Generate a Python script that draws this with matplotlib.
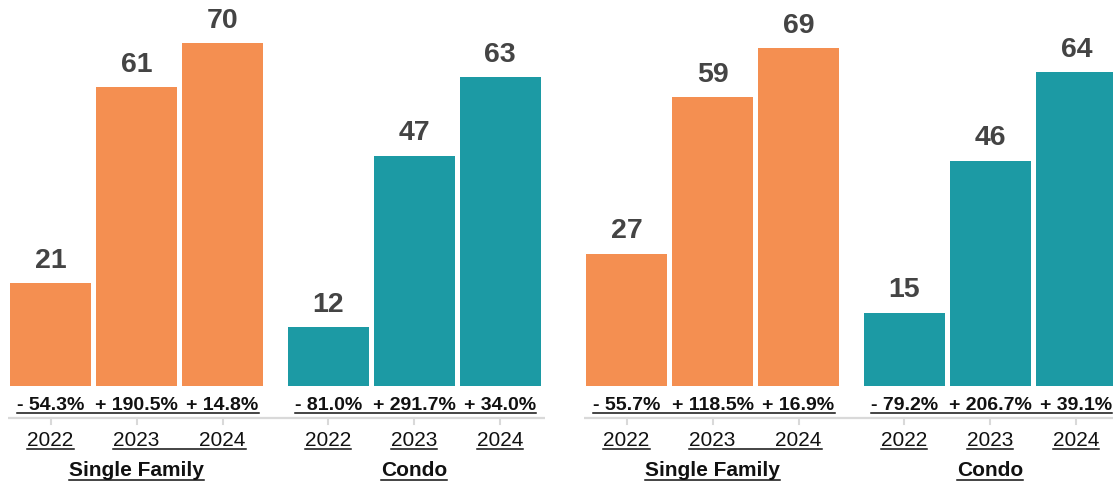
import matplotlib
matplotlib.use("Agg")
import matplotlib.pyplot as plt
import matplotlib.transforms as mtransforms
from matplotlib.lines import Line2D

plt.rcParams['font.family'] = ['Liberation Sans', 'DejaVu Sans']

years = ["2022", "2023", "2024"]
groups = ["Single Family", "Condo"]

# panel 1
left_sf = [21, 61, 70]
left_condo = [12, 47, 63]
left_sf_chg = [-54.3, 190.5, 14.8]
left_condo_chg = [-81.0, 291.7, 34.0]

# panel 2
right_sf = [27, 59, 69]
right_condo = [15, 46, 64]
right_sf_chg = [-55.7, 118.5, 16.9]
right_condo_chg = [-79.2, 206.7, 39.1]

ORANGE = "#F48F51"
TEAL = "#1C9AA4"
GRID = "#d9d9d9"
W, H, DPI = 1113, 484, 100

fig = plt.figure(figsize=(W / DPI, H / DPI), dpi=DPI)


def fy(px):
    # pixel row from the top -> inches from the bottom
    return (H - px) / DPI


def fmt_pct(v):
    sign = "+" if v >= 0 else "-"
    return f"{sign} {abs(v):.1f}%"


def draw_panel(left_px, sf, condo, sf_chg, condo_chg):
    base = 386
    ax = fig.add_axes([left_px / W, (H - base) / H, 560 / W, base / H])
    ax.set_xlim(-50.5 / 86, (560 - 50.5) / 86)
    ax.set_ylim(0, base / 4.9)
    ax.axis("off")

    trans = mtransforms.blended_transform_factory(ax.transData, fig.dpi_scale_trans)
    texts = []
    for g, (vals, chg, color) in enumerate([(sf, sf_chg, ORANGE), (condo, condo_chg, TEAL)]):
        xs = [i + g * 3.23 for i in range(3)]
        ax.bar(xs, vals, width=0.942, color=color, linewidth=0)
        for x, v in zip(xs, vals):
            ax.annotate(str(v), (x, v), xytext=(0, 11), textcoords="offset points",
                        ha="center", va="baseline", fontsize=20.5, fontweight="bold",
                        color="#444444")
        pct = [ax.text(x, fy(410), fmt_pct(c), transform=trans, ha="center",
                       va="baseline", fontsize=14, fontweight="bold", color="#111111")
               for x, c in zip(xs, chg)]
        yrs = [ax.text(x, fy(445.5), y, transform=trans, ha="center",
                       va="baseline", fontsize=15, color="#111111")
               for x, y in zip(xs, years)]
        name = ax.text(sum(xs) / 3, fy(476), groups[g], transform=trans, ha="center",
                       va="baseline", fontsize=15, fontweight="bold", color="#111111")
        for x in xs:
            ax.plot([x, x], [fy(418), fy(424)], transform=trans, color=GRID,
                    lw=1.5, clip_on=False)
        texts.append((pct, yrs, name, g))
    ax.plot([-0.49, 5.75], [fy(418), fy(418)], transform=trans, color=GRID,
            lw=1.6, clip_on=False, solid_capstyle="butt")
    return texts


panels = [
    draw_panel(0, left_sf, left_condo, left_sf_chg, left_condo_chg),
    draw_panel(576, right_sf, right_condo, right_sf_chg, right_condo_chg),
]

# underlines drawn from the rendered text extents
renderer = fig.canvas.get_renderer()


def underline(x0, x1, row):
    y = (H - row) / H
    fig.add_artist(Line2D([x0 / W, x1 / W], [y, y], transform=fig.transFigure,
                          color="#111111", lw=1.1))


for texts in panels:
    for pct, yrs, name, g in texts:
        b0 = pct[0].get_window_extent(renderer)
        b1 = pct[-1].get_window_extent(renderer)
        underline(b0.x0, b1.x1, 413)
        ext = [t.get_window_extent(renderer) for t in yrs]
        if g == 0:
            underline(ext[0].x0, ext[0].x1, 449)
            underline(ext[1].x0, ext[2].x1, 449)
        else:
            for e in ext:
                underline(e.x0, e.x1, 449)
        nb = name.get_window_extent(renderer)
        underline(nb.x0, nb.x1, 479.5)

fig.savefig("out.png", dpi=DPI)
